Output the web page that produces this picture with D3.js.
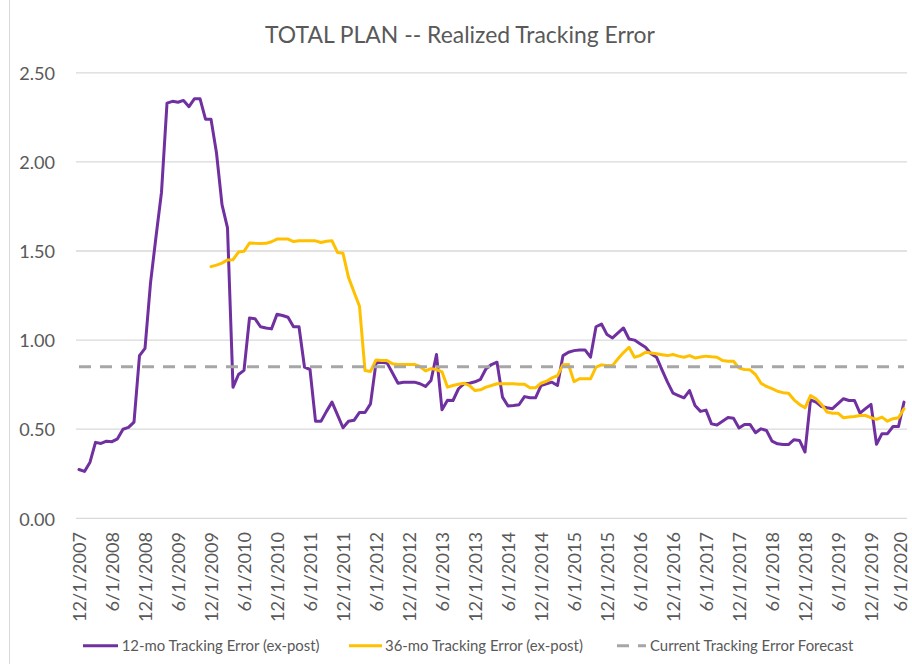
<!DOCTYPE html>
<html>
<head>
<meta charset="utf-8">
<script src="https://cdn.jsdelivr.net/npm/d3@7"></script>
<style>
  html, body { margin: 0; padding: 0; background: #fff; }
  svg { display: block; }
  text { font-family: Lato, "Open Sans", sans-serif; fill: #595959; }
</style>
</head>
<body>
<svg id="chart" width="912" height="664"></svg>
<script>
// ---------------- DATA ----------------
const title = "TOTAL PLAN -- Realized Tracking Error";
const startMonth = new Date(2007, 11, 1);   // 12/1/2007
const monthCount = 151;                      // through 6/1/2020

const tickLabels = [
  "12/1/2007","6/1/2008","12/1/2008","6/1/2009","12/1/2009","6/1/2010",
  "12/1/2010","6/1/2011","12/1/2011","6/1/2012","12/1/2012","6/1/2013",
  "12/1/2013","6/1/2014","12/1/2014","6/1/2015","12/1/2015","6/1/2016",
  "12/1/2016","6/1/2017","12/1/2017","6/1/2018","12/1/2018","6/1/2019",
  "12/1/2019","6/1/2020"
];

const yTicks = [0, 0.5, 1.0, 1.5, 2.0, 2.5];

const te12 = [
  0.274,0.263,0.315,0.426,0.420,0.433,0.430,0.446,0.500,0.510,
  0.540,0.913,0.954,1.320,1.580,1.830,2.330,2.340,2.335,2.345,
  2.310,2.355,2.355,2.240,2.240,2.050,1.760,1.630,0.735,0.807,
  0.830,1.124,1.120,1.075,1.068,1.063,1.145,1.138,1.128,1.075,
  1.075,0.848,0.835,0.545,0.545,0.600,0.652,0.580,0.508,0.545,
  0.550,0.594,0.594,0.642,0.872,0.876,0.872,0.815,0.758,0.764,
  0.764,0.764,0.755,0.740,0.773,0.919,0.609,0.662,0.661,0.727,
  0.755,0.758,0.766,0.780,0.839,0.863,0.876,0.680,0.630,0.633,
  0.637,0.683,0.676,0.676,0.745,0.755,0.764,0.745,0.913,0.932,
  0.941,0.945,0.945,0.904,1.075,1.090,1.031,1.012,1.040,1.068,
  1.006,1.000,0.980,0.960,0.923,0.904,0.833,0.764,0.702,0.689,
  0.676,0.717,0.633,0.600,0.607,0.530,0.524,0.545,0.566,0.562,
  0.507,0.527,0.527,0.480,0.502,0.493,0.433,0.418,0.414,0.414,
  0.441,0.437,0.372,0.665,0.652,0.627,0.620,0.615,0.643,0.671,
  0.661,0.661,0.590,0.615,0.639,0.415,0.475,0.475,0.515,0.515,
  0.652
];

const te36 = [
  null,null,null,null,null,null,null,null,null,null,
  null,null,null,null,null,null,null,null,null,null,
  null,null,null,null,1.412,1.421,1.432,1.450,1.451,1.494,
  1.498,1.545,1.543,1.542,1.543,1.552,1.567,1.567,1.567,1.553,
  1.557,1.557,1.557,1.557,1.548,1.555,1.557,1.492,1.487,1.352,
  1.270,1.190,0.829,0.824,0.889,0.885,0.885,0.867,0.863,0.863,
  0.863,0.863,0.852,0.827,0.840,0.835,0.822,0.736,0.745,0.752,
  0.758,0.745,0.717,0.721,0.736,0.745,0.755,0.755,0.755,0.755,
  0.752,0.752,0.732,0.732,0.758,0.769,0.788,0.801,0.862,0.863,
  0.767,0.783,0.783,0.783,0.848,0.861,0.857,0.857,0.895,0.930,
  0.960,0.904,0.913,0.932,0.928,0.923,0.918,0.913,0.919,0.910,
  0.904,0.913,0.900,0.905,0.910,0.906,0.904,0.885,0.881,0.881,
  0.843,0.835,0.833,0.807,0.758,0.740,0.728,0.713,0.705,0.702,
  0.665,0.639,0.620,0.689,0.671,0.639,0.596,0.590,0.590,0.564,
  0.568,0.571,0.577,0.577,0.565,0.555,0.568,0.545,0.559,0.564,
  0.615
];

const forecast = 0.85;

const seriesNames = [
  "12-mo Tracking Error (ex-post)",
  "36-mo Tracking Error (ex-post)",
  "Current Tracking Error Forecast"
];
const colors = ["#7030A0", "#FFC000", "#A6A6A6"];

// ---------------- CHART ----------------
const months = d3.timeMonth.range(startMonth, d3.timeMonth.offset(startMonth, monthCount));
const fmt = d => (d.getMonth() + 1) + "/" + d.getDate() + "/" + d.getFullYear();
const cats = months.map(fmt);

const svg = d3.select("#chart");

// outer frame edge
svg.append("line")
  .attr("x1", 9.5).attr("x2", 9.5).attr("y1", 0).attr("y2", 664)
  .attr("stroke", "#D9D9D9").attr("stroke-width", 1);

const x = d3.scalePoint().domain(cats).range([79, 904]);
const y = d3.scaleLinear().domain([0, 2.5]).range([518.3, 72.8]);

function fitFont(sel, base, target) {
  sel.style("font-size", base + "px");
  const w = sel.node().getComputedTextLength();
  const s = base * target / w;
  sel.style("font-size", s + "px");
  return s;
}

// gridlines
svg.append("g").selectAll("line").data(yTicks).join("line")
  .attr("x1", 76).attr("x2", 907)
  .attr("y1", d => y(d)).attr("y2", d => y(d))
  .attr("stroke", "#D9D9D9").attr("stroke-width", 1.3);

// tick font size from a reference label
const probe = svg.append("text").text("12/1/2007");
const tickSize = fitFont(probe, 18, 90);
probe.remove();

// Y axis
const yAxis = d3.axisLeft(y).tickValues(yTicks).tickFormat(d3.format(".2f")).tickSize(0).tickPadding(0);
const gy = svg.append("g").attr("transform", "translate(55,0)").call(yAxis);
gy.select(".domain").remove();
gy.selectAll("text")
  .attr("dy", null).attr("y", 6.7).attr("x", 0)
  .attr("text-anchor", "end")
  .style("font-family", "Lato, sans-serif")
  .style("font-size", tickSize + "px")
  .style("fill", "#595959");

// X axis
const tickCats = cats.filter((c, i) => i % 6 === 0);
const xAxis = d3.axisBottom(x).tickValues(tickCats)
  .tickFormat((d, i) => tickLabels[i]).tickSize(0).tickPadding(0);
const gx = svg.append("g").attr("transform", "translate(0,532)").call(xAxis);
gx.select(".domain").remove();
gx.selectAll("text")
  .attr("dy", null).attr("y", 0).attr("x", 0)
  .attr("text-anchor", "end")
  .attr("transform", d => "translate(" + Math.min(6.6, 906.5 - x(d)) + ",0) rotate(-90)")
  .style("font-family", "Lato, sans-serif")
  .style("font-size", tickSize + "px")
  .style("fill", "#595959");

// lines
const line = d3.line()
  .defined(d => d.v != null)
  .x(d => x(d.c)).y(d => y(d.v));

const s12 = cats.map((c, i) => ({ c, v: te12[i] }));
const s36 = cats.map((c, i) => ({ c, v: te36[i] }));

svg.append("path").datum(s12).attr("d", line)
  .attr("fill", "none").attr("stroke", colors[0]).attr("stroke-width", 3)
  .attr("stroke-linejoin", "round").attr("stroke-linecap", "round");
svg.append("path").datum(s36).attr("d", line)
  .attr("fill", "none").attr("stroke", colors[1]).attr("stroke-width", 3)
  .attr("stroke-linejoin", "round").attr("stroke-linecap", "round");
svg.append("line")
  .attr("x1", x(cats[0])).attr("x2", x(cats[cats.length - 1]))
  .attr("y1", y(forecast)).attr("y2", y(forecast))
  .attr("stroke", colors[2]).attr("stroke-width", 3)
  .attr("stroke-dasharray", "12,9");

// title
const t = svg.append("text").attr("x", 460).attr("y", 43)
  .attr("text-anchor", "middle").text(title);
fitFont(t, 24, 390);

// legend
const legY = 645.7;
const legItems = [
  { x1: 83, x2: 118, tx: 121.7, dash: null },
  { x1: 349, x2: 382, tx: 385, dash: null },
  { x1: 617, x2: 646, tx: 650, dash: "12,9" }
];
const lg = svg.append("g");
let legSize = null;
legItems.forEach((it, i) => {
  lg.append("line").attr("x1", it.x1).attr("x2", it.x2)
    .attr("y1", legY).attr("y2", legY)
    .attr("stroke", colors[i]).attr("stroke-width", 3)
    .attr("stroke-dasharray", it.dash);
  const tx = lg.append("text").attr("x", it.tx).attr("y", legY + 5).text(seriesNames[i]);
  if (i === 0) legSize = fitFont(tx, 14, 198);
  else tx.style("font-size", legSize + "px");
});
</script>
</body>
</html>
